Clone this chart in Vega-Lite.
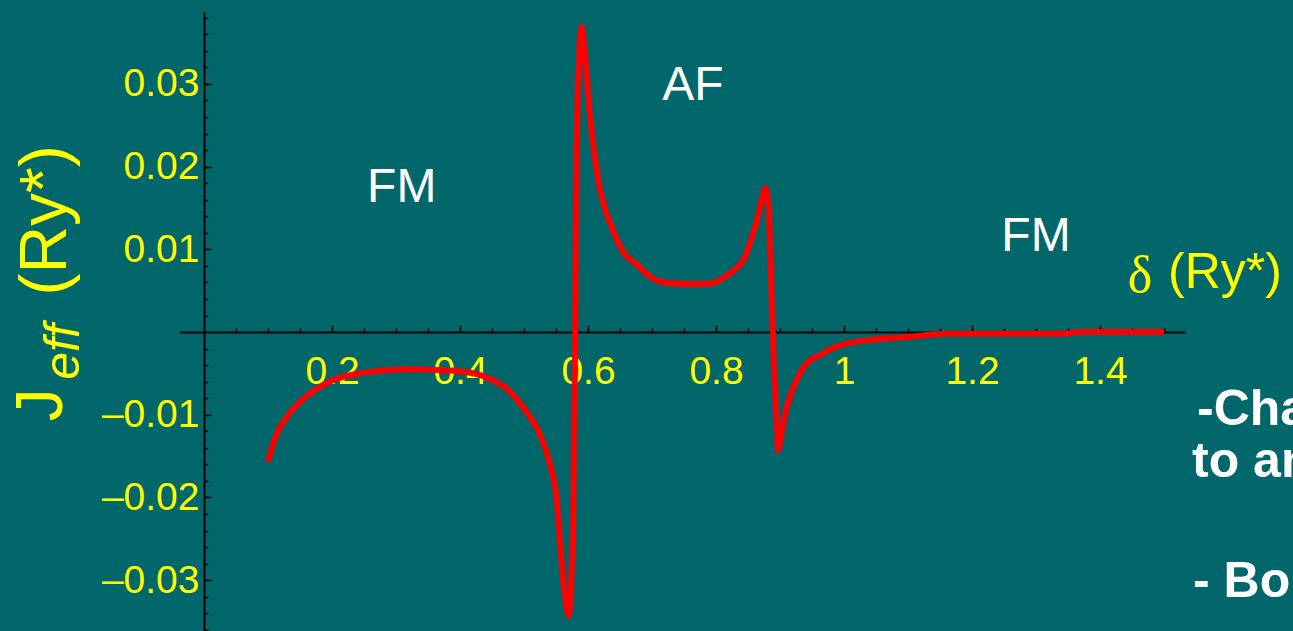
{
  "$schema": "https://vega.github.io/schema/vega-lite/v6.json",
  "width": 1005,
  "height": 619,
  "autosize": "none",
  "padding": {"left": 180, "top": 12, "right": 108, "bottom": 0},
  "background": "#02676A",
  "config": {
    "view": {"stroke": null},
    "axis": {
      "grid": false,
      "domainColor": "#000000",
      "tickColor": "#000000",
      "domainWidth": 1.5,
      "tickWidth": 1.5,
      "title": null,
      "labelOverlap": false,
      "labelFlush": false,
      "labelBound": false,
      "labelFont": "Liberation Sans",
      "labelFontSize": 39,
      "labelColor": "#FFFF00"
    }
  },
  "datasets": {
    "curve": [
      {"delta": 0.100, "J": -0.0157},
      {"delta": 0.111, "J": -0.0128},
      {"delta": 0.130, "J": -0.0102},
      {"delta": 0.155, "J": -0.0081},
      {"delta": 0.180, "J": -0.0067},
      {"delta": 0.202, "J": -0.0058},
      {"delta": 0.230, "J": -0.0052},
      {"delta": 0.262, "J": -0.0048},
      {"delta": 0.290, "J": -0.0046},
      {"delta": 0.330, "J": -0.0045},
      {"delta": 0.364, "J": -0.0046},
      {"delta": 0.405, "J": -0.0048},
      {"delta": 0.442, "J": -0.0055},
      {"delta": 0.478, "J": -0.0072},
      {"delta": 0.505, "J": -0.0098},
      {"delta": 0.525, "J": -0.0124},
      {"delta": 0.540, "J": -0.0158},
      {"delta": 0.551, "J": -0.0202},
      {"delta": 0.559, "J": -0.0280},
      {"delta": 0.564, "J": -0.0319},
      {"delta": 0.570, "J": -0.0343},
      {"delta": 0.574, "J": -0.0300},
      {"delta": 0.577, "J": -0.0230},
      {"delta": 0.580, "J": 0.0},
      {"delta": 0.582, "J": 0.0207},
      {"delta": 0.586, "J": 0.0329},
      {"delta": 0.590, "J": 0.0369},
      {"delta": 0.594, "J": 0.0345},
      {"delta": 0.599, "J": 0.0300},
      {"delta": 0.604, "J": 0.0255},
      {"delta": 0.611, "J": 0.0210},
      {"delta": 0.618, "J": 0.0175},
      {"delta": 0.627, "J": 0.0148},
      {"delta": 0.639, "J": 0.0123},
      {"delta": 0.655, "J": 0.0097},
      {"delta": 0.677, "J": 0.0081},
      {"delta": 0.697, "J": 0.0067},
      {"delta": 0.728, "J": 0.0059},
      {"delta": 0.759, "J": 0.0058},
      {"delta": 0.786, "J": 0.0058},
      {"delta": 0.811, "J": 0.0065},
      {"delta": 0.822, "J": 0.0071},
      {"delta": 0.833, "J": 0.0078},
      {"delta": 0.845, "J": 0.0090},
      {"delta": 0.855, "J": 0.0112},
      {"delta": 0.864, "J": 0.0135},
      {"delta": 0.872, "J": 0.0162},
      {"delta": 0.877, "J": 0.0174},
      {"delta": 0.881, "J": 0.0160},
      {"delta": 0.884, "J": 0.0120},
      {"delta": 0.887, "J": 0.0040},
      {"delta": 0.890, "J": -0.0030},
      {"delta": 0.894, "J": -0.0100},
      {"delta": 0.897, "J": -0.0143},
      {"delta": 0.901, "J": -0.0130},
      {"delta": 0.908, "J": -0.0098},
      {"delta": 0.917, "J": -0.0075},
      {"delta": 0.926, "J": -0.0058},
      {"delta": 0.936, "J": -0.0044},
      {"delta": 0.947, "J": -0.0034},
      {"delta": 0.958, "J": -0.0030},
      {"delta": 0.978, "J": -0.0021},
      {"delta": 1.004, "J": -0.0014},
      {"delta": 1.036, "J": -0.0010},
      {"delta": 1.098, "J": -0.0006},
      {"delta": 1.161, "J": -0.0002},
      {"delta": 1.250, "J": -0.0002},
      {"delta": 1.342, "J": -0.0002},
      {"delta": 1.369, "J": 0.0},
      {"delta": 1.500, "J": 0.0}
    ],
    "regions": [
      {"x": 0.309, "y": 0.0174, "label": "FM"},
      {"x": 0.764, "y": 0.0297, "label": "AF"},
      {"x": 1.300, "y": 0.0115, "label": "FM"}
    ],
    "ytitleMain": [
      {"x": -0.2531, "y": -0.0088, "label": "J"},
      {"x": -0.2469, "y": 0.0135, "label": "(Ry*)"}
    ],
    "ytitleSub": [
      {"x": -0.2188, "y": -0.0024, "label": "eff"}
    ],
    "xtitleDelta": [
      {"x": 1.4625, "y": 0.0068, "label": "δ"}
    ],
    "xtitleUnit": [
      {"x": 1.5953, "y": 0.0071, "label": "(Ry*)"}
    ],
    "sideText": [
      {"x": 1.5516, "y": -0.01125, "label": "-Change of sign"},
      {"x": 1.5438, "y": -0.01753, "label": "to antiferro"},
      {"x": 1.5453, "y": -0.03204, "label": "- Boundary"}
    ]
  },
  "layer": [
    {
      "data": {"name": "curve"},
      "mark": {"type": "line", "opacity": 0},
      "encoding": {
        "x": {
          "field": "delta", "type": "quantitative",
          "scale": {"domain": [-0.0375, 1.5328], "nice": false, "zero": false},
          "axis": {
            "orient": "bottom", "offset": -299, "labels": false, "tickSize": -4,
            "values": [0.05,0.1,0.15,0.2,0.25,0.3,0.35,0.4,0.45,0.5,0.55,0.6,0.65,0.7,0.75,0.8,0.85,0.9,0.95,1,1.05,1.1,1.15,1.2,1.25,1.3,1.35,1.4,1.45,1.5]
          }
        },
        "y": {
          "field": "J", "type": "quantitative",
          "scale": {"domain": [-0.03615, 0.0387], "nice": false, "zero": false},
          "axis": {
            "orient": "left", "offset": -24, "labels": false, "tickSize": -4,
            "values": [-0.036,-0.034,-0.032,-0.03,-0.028,-0.026,-0.024,-0.022,-0.02,-0.018,-0.016,-0.014,-0.012,-0.01,-0.008,-0.006,-0.004,-0.002,0.002,0.004,0.006,0.008,0.01,0.012,0.014,0.016,0.018,0.02,0.022,0.024,0.026,0.028,0.03,0.032,0.034,0.036,0.038]
          }
        }
      }
    },
    {
      "data": {"name": "curve"},
      "mark": {"type": "line", "color": "#FF0000", "strokeWidth": 6, "interpolate": "monotone", "strokeJoin": "round"},
      "encoding": {
        "x": {
          "field": "delta", "type": "quantitative",
          "scale": {"domain": [-0.0375, 1.5328], "nice": false, "zero": false},
          "axis": {
            "orient": "bottom", "offset": -299, "tickSize": -7, "labelPadding": 27,
            "values": [0.2, 0.4, 0.6, 0.8, 1, 1.2, 1.4],
            "labelExpr": "format(datum.value, '~g')"
          }
        },
        "y": {
          "field": "J", "type": "quantitative",
          "scale": {"domain": [-0.03615, 0.0387], "nice": false, "zero": false},
          "axis": {
            "orient": "left", "offset": -24, "tickSize": -7, "labelPadding": 12,
            "values": [-0.03, -0.02, -0.01, 0.01, 0.02, 0.03],
            "labelExpr": "datum.value < 0 ? '–' + format(-datum.value, '.2f') : format(datum.value, '.2f')"
          }
        }
      }
    },
    {
      "data": {"name": "regions"},
      "mark": {"type": "text", "font": "Liberation Sans", "fontSize": 48, "color": "#FFFFFF", "align": "center", "baseline": "middle"},
      "encoding": {
        "x": {"field": "x", "type": "quantitative", "axis": null},
        "y": {"field": "y", "type": "quantitative", "axis": null},
        "text": {"field": "label"}
      }
    },
    {
      "data": {"name": "ytitleMain"},
      "mark": {"type": "text", "font": "Liberation Sans", "fontSize": 66, "color": "#FFFF00", "align": "center", "baseline": "middle", "angle": 270},
      "encoding": {
        "x": {"field": "x", "type": "quantitative", "axis": null},
        "y": {"field": "y", "type": "quantitative", "axis": null},
        "text": {"field": "label"}
      }
    },
    {
      "data": {"name": "ytitleSub"},
      "mark": {"type": "text", "font": "Liberation Sans", "fontSize": 50, "fontStyle": "italic", "color": "#FFFF00", "align": "center", "baseline": "middle", "angle": 270},
      "encoding": {
        "x": {"field": "x", "type": "quantitative", "axis": null},
        "y": {"field": "y", "type": "quantitative", "axis": null},
        "text": {"field": "label"}
      }
    },
    {
      "data": {"name": "xtitleDelta"},
      "mark": {"type": "text", "font": "Liberation Serif", "fontSize": 52, "color": "#FFFF00", "align": "center", "baseline": "middle"},
      "encoding": {
        "x": {"field": "x", "type": "quantitative", "axis": null},
        "y": {"field": "y", "type": "quantitative", "axis": null},
        "text": {"field": "label"}
      }
    },
    {
      "data": {"name": "xtitleUnit"},
      "mark": {"type": "text", "font": "Liberation Sans", "fontSize": 50, "color": "#FFFF00", "align": "center", "baseline": "middle"},
      "encoding": {
        "x": {"field": "x", "type": "quantitative", "axis": null},
        "y": {"field": "y", "type": "quantitative", "axis": null},
        "text": {"field": "label"}
      }
    },
    {
      "data": {"name": "sideText"},
      "mark": {"type": "text", "font": "Liberation Sans", "fontSize": 50, "fontWeight": "bold", "color": "#FFFFFF", "align": "left", "baseline": "alphabetic"},
      "encoding": {
        "x": {"field": "x", "type": "quantitative", "axis": null},
        "y": {"field": "y", "type": "quantitative", "axis": null},
        "text": {"field": "label"}
      }
    }
  ],
  "resolve": {"axis": {"x": "independent", "y": "independent"}}
}
